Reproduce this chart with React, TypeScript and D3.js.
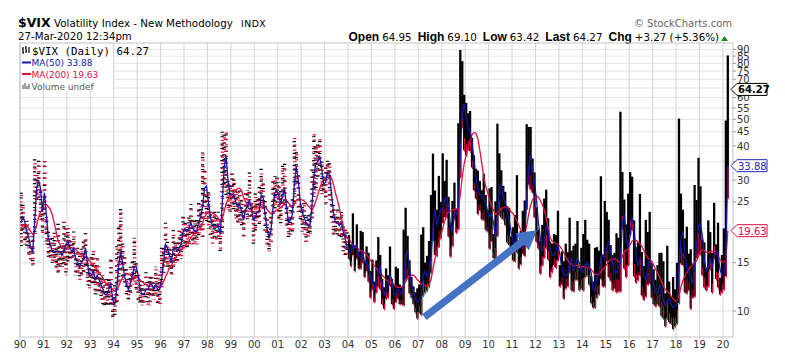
import * as d3 from "d3";

const W = 785;
const H = 360;
const plot = { left: 20, right: 733, top: 43, bottom: 337 };

const FONT = "'DejaVu Sans', Verdana, sans-serif";
const ARIAL = "'Liberation Sans', Arial, sans-serif";
const MONO = "'DejaVu Sans Mono', monospace";

const RED = "#e3103f";
const BLUE = "#1818a8";
const ARROW = "#4472c4";

const firstYear = 1990;
const barsFrom = 2004; // before this only closes exist -> drawn as ticks

// monthly range of the index, Jan 1990 .. Mar 2020
const monthHigh = [
  27.0, 24.6, 21.0, 21.5, 19.5, 18.0, 19.0, 36.5, 33.0, 36.0, 28.0, 24.0,
  36.2, 22.0, 19.5, 19.0, 18.5, 19.5, 17.5, 21.0, 17.5, 18.0, 21.5, 20.5,
  20.5, 18.5, 18.0, 19.5, 16.0, 17.0, 16.0, 17.5, 18.0, 19.5, 16.0, 14.5,
  16.0, 17.0, 15.0, 16.0, 14.5, 13.5, 13.5, 12.5, 13.5, 13.0, 15.5, 11.5,
  12.5, 17.5, 21.0, 23.9, 18.0, 16.5, 14.5, 13.5, 14.5, 15.5, 18.5, 15.0,
  14.0, 12.5, 13.0, 12.5, 14.0, 13.0, 14.0, 13.5, 13.0, 14.5, 13.5, 14.0,
  17.0, 17.5, 21.0, 18.0, 17.5, 16.0, 20.0, 18.5, 18.0, 20.0, 20.0, 22.5,
  21.5, 21.0, 22.5, 24.5, 21.5, 22.0, 21.5, 25.0, 24.5, 38.2, 33.0, 27.5,
  27.5, 23.0, 22.5, 23.5, 22.5, 23.0, 21.0, 45.0, 44.0, 45.7, 30.0, 29.0,
  33.0, 30.5, 28.0, 28.5, 28.0, 26.0, 24.5, 27.5, 27.5, 32.0, 25.5, 24.0,
  27.0, 26.5, 28.5, 33.5, 30.5, 25.5, 22.0, 20.5, 22.5, 30.5, 31.0, 31.5,
  29.5, 27.5, 35.0, 34.5, 25.5, 22.5, 24.5, 26.0, 43.7, 38.5, 32.0, 25.5,
  24.5, 25.5, 22.0, 23.0, 22.5, 33.0, 45.0, 40.0, 41.0, 43.5, 35.5, 31.5,
  35.0, 36.0, 35.5, 27.0, 25.0, 22.5, 23.5, 22.5, 23.0, 20.5, 20.5, 19.5,
  18.9, 17.5, 22.7, 17.3, 20.7, 16.5, 19.6, 19.4, 15.2, 17.2, 16.3, 14.0,
  15.4, 12.8, 15.3, 18.6, 16.0, 13.1, 12.2, 14.3, 13.5, 17.2, 13.1, 12.5,
  14.5, 14.3, 12.5, 12.3, 19.8, 23.8, 18.8, 15.3, 13.3, 12.3, 11.7, 12.1,
  12.5, 19.0, 20.2, 15.0, 15.9, 18.0, 26.5, 37.5, 27.5, 23.4, 31.1, 25.0,
  37.6, 29.8, 35.6, 26.1, 21.0, 25.2, 29.4, 23.6, 48.4, 89.5, 81.5, 61.4,
  57.4, 52.6, 53.6, 42.8, 37.0, 33.0, 32.5, 29.8, 27.6, 31.7, 26.5, 23.4,
  28.0, 28.3, 19.1, 25.1, 48.2, 37.6, 32.6, 28.6, 27.2, 24.1, 23.8, 18.7,
  20.2, 22.4, 31.3, 17.9, 19.6, 23.2, 25.3, 48.0, 46.9, 46.9, 36.0, 32.0,
  23.9, 19.8, 18.0, 20.6, 25.7, 27.7, 21.8, 17.9, 17.6, 19.1, 18.9, 23.2,
  14.7, 16.5, 15.2, 17.6, 16.4, 21.9, 16.6, 17.3, 17.6, 21.3, 14.4, 17.0,
  19.1, 21.5, 18.2, 17.6, 13.4, 12.8, 17.0, 17.1, 16.6, 31.0, 16.0, 25.2,
  23.0, 21.5, 17.4, 16.0, 16.3, 19.2, 18.5, 53.3, 32.1, 25.5, 20.7, 26.8,
  32.1, 30.9, 21.4, 17.1, 17.8, 26.7, 16.4, 14.6, 21.5, 19.4, 23.0, 15.0,
  14.2, 13.0, 14.7, 16.3, 16.3, 15.2, 11.6, 17.3, 12.8, 11.3, 13.3, 12.0,
  15.0, 50.3, 26.8, 23.4, 18.4, 20.3, 16.2, 16.8, 14.9, 28.8, 25.4, 36.2,
  28.5, 18.2, 17.8, 14.4, 21.4, 19.4, 16.3, 24.8, 17.5, 21.0, 13.2, 16.0,
  20.0, 49.5, 85.5,
];

const monthLow = [
  17.2, 19.8, 17.5, 17.0, 15.8, 15.4, 14.7, 18.5, 25.0, 25.5, 21.0, 18.5,
  21.5, 17.5, 15.5, 15.5, 15.0, 15.0, 14.0, 13.8, 14.5, 14.5, 14.5, 13.5,
  15.0, 15.5, 15.0, 15.5, 13.5, 13.5, 13.0, 13.5, 13.5, 14.5, 12.5, 12.0,
  12.5, 12.5, 11.5, 11.5, 11.5, 11.0, 10.5, 10.5, 10.5, 10.5, 10.5, 9.3,
  9.5, 10.5, 12.5, 14.0, 13.0, 12.5, 11.5, 11.0, 11.5, 12.5, 12.5, 11.5,
  11.0, 10.5, 10.5, 10.5, 11.0, 10.5, 10.5, 11.0, 11.0, 11.5, 10.5, 10.5,
  12.0, 13.5, 15.0, 14.5, 14.0, 13.5, 14.5, 15.0, 15.0, 15.5, 15.5, 16.5,
  17.5, 17.0, 17.5, 18.5, 17.5, 17.5, 17.5, 18.5, 19.5, 18.5, 24.0, 21.0,
  20.0, 18.5, 17.5, 18.5, 18.0, 18.5, 16.5, 19.0, 28.0, 26.0, 23.5, 22.5,
  23.5, 23.0, 21.5, 21.0, 21.5, 20.5, 18.5, 22.5, 21.0, 21.5, 21.5, 17.5,
  19.5, 21.5, 20.5, 24.0, 23.5, 19.5, 17.5, 16.5, 17.5, 22.5, 23.5, 24.5,
  21.5, 20.5, 24.5, 23.5, 20.5, 18.5, 19.0, 19.0, 24.5, 29.0, 23.0, 21.5,
  19.5, 19.0, 17.5, 18.5, 18.5, 21.5, 26.0, 27.5, 30.5, 32.0, 26.5, 26.5,
  24.5, 29.5, 25.5, 21.0, 19.0, 19.5, 19.0, 18.5, 18.5, 16.5, 16.0, 16.0,
  15.5, 14.6, 16.0, 14.0, 15.5, 14.3, 14.3, 15.0, 13.3, 14.0, 12.8, 11.2,
  12.0, 10.8, 11.7, 12.3, 12.0, 10.6, 10.2, 11.1, 11.2, 12.4, 10.6, 10.2,
  10.8, 11.1, 10.6, 10.6, 10.5, 13.0, 13.2, 11.6, 11.2, 10.6, 9.9, 9.4,
  9.9, 9.7, 11.4, 11.7, 11.9, 12.3, 13.8, 18.2, 16.0, 15.9, 17.2, 18.5,
  21.0, 22.0, 22.0, 18.7, 15.8, 17.3, 21.7, 19.3, 19.9, 30.8, 47.0, 38.6,
  37.0, 39.0, 38.3, 33.4, 27.6, 25.7, 22.6, 23.3, 21.6, 21.5, 19.8, 19.5,
  16.9, 18.0, 15.6, 15.2, 18.8, 22.5, 21.9, 21.6, 20.6, 17.8, 17.4, 16.3,
  15.3, 15.2, 16.4, 14.3, 14.8, 16.2, 15.9, 23.6, 29.0, 27.8, 27.0, 22.0,
  17.9, 16.9, 13.7, 14.7, 15.7, 17.0, 15.4, 13.3, 13.9, 14.7, 14.4, 15.3,
  12.3, 12.5, 11.1, 12.1, 12.3, 13.8, 11.9, 11.8, 13.0, 13.0, 11.9, 12.1,
  11.9, 13.3, 13.5, 12.5, 10.7, 10.3, 10.3, 11.2, 11.5, 13.1, 12.3, 12.3,
  15.2, 13.3, 12.9, 11.9, 12.1, 11.7, 11.8, 11.8, 20.0, 14.3, 13.3, 14.7,
  19.0, 19.8, 13.4, 12.7, 13.0, 13.5, 11.4, 11.0, 11.3, 12.5, 12.6, 11.2,
  10.6, 10.4, 10.6, 10.4, 9.6, 9.4, 8.8, 9.4, 9.1, 9.0, 8.6, 8.8,
  9.0, 10.7, 14.9, 14.7, 11.7, 11.6, 11.9, 10.2, 11.2, 11.3, 15.6, 16.1,
  16.1, 13.5, 12.2, 11.9, 12.3, 14.2, 11.7, 15.6, 13.1, 12.2, 11.5, 11.7,
  12.0, 13.4, 25.9,
];

const ma50 = [
  21, 22, 21, 19.5, 18.5, 17, 16.5, 21, 28, 30, 28, 23,
  27, 22.5, 18.5, 17.5, 16.5, 16.5, 16.5, 16.5, 16.5, 16, 16.5, 17.5,
  18, 17, 16.5, 17, 15.5, 15, 14.5, 15, 15.5, 17, 15, 13.5,
  13.5, 14, 13, 13.5, 13, 12.5, 12, 11.5, 11.5, 12, 12.5, 11,
  10.5, 12, 14.5, 16.5, 15, 13.5, 12.5, 12, 12.5, 13.5, 14.5, 14.5,
  13.5, 12, 11.5, 11.5, 12, 12, 12.5, 12.5, 12, 12.5, 12, 12,
  13, 15, 17.5, 17, 16, 15, 17, 17, 16.5, 17, 17.5, 19.5,
  20, 19.5, 20, 21, 20, 19.5, 19.5, 21, 22, 24, 28, 28.5,
  25, 22, 20.5, 20.5, 20.5, 20.5, 19, 24, 33, 37, 30, 26.5,
  26.5, 26.5, 25, 24, 24.5, 23, 21.5, 23.5, 24, 25.5, 23.5, 21.5,
  22, 23, 23, 26.5, 26, 22.5, 20, 18.5, 19.5, 23.5, 27, 27.5,
  26.5, 24.5, 26.5, 28, 24, 21, 21.5, 22.5, 29, 33.5, 30, 25,
  23, 22, 21, 20.5, 20.5, 24, 31, 34.5, 35, 36.5, 33, 29,
  29.5, 32, 31.5, 27, 23, 21, 21, 20.5, 21, 19.5, 18.5, 17,
  17, 16.3, 17.5, 17, 17.5, 16, 15.5, 16.5, 15, 15, 14.5, 13.2,
  13, 12, 12.5, 14, 14.5, 12.5, 11.5, 12, 12.5, 13.5, 13, 11.5,
  11.5, 12, 11.8, 11.5, 12.5, 16, 16.5, 14.5, 12.5, 11.8, 11, 10.8,
  10.9, 11.2, 13.5, 14, 13.3, 14, 15.5, 20, 23.5, 20.5, 22, 23.5,
  23.5, 25.5, 26, 24, 20.5, 19.5, 22.5, 22.5, 24, 37, 53, 57,
  51, 46, 45.5, 41, 35.5, 31, 28, 26.5, 26.5, 25.5, 25, 23,
  22, 22.5, 21, 18.5, 22, 28, 29, 26, 25, 23, 21.5, 19.5,
  18, 17.5, 19, 19, 17, 17.5, 18.5, 25, 33, 37, 33, 29.5,
  25.5, 21, 18.5, 16.5, 17.5, 20.5, 19.5, 17, 16, 16, 16.5, 17.5,
  16, 14.5, 13.5, 13.5, 13.5, 15, 15.5, 14, 14.8, 15.5, 15, 14,
  13.8, 14.5, 15, 14.5, 13.8, 12, 11.8, 13.3, 13.6, 15.5, 16, 15.5,
  17, 17.8, 16.8, 14.8, 13.8, 13.8, 14.4, 15, 21, 22.5, 18.5, 17,
  19, 22, 20, 16, 14.6, 15.5, 15.3, 13.3, 13, 14.2, 15.5, 14.5,
  12.5, 11.7, 11.6, 12.4, 12.1, 10.9, 10.5, 10.9, 11.1, 10.6, 10.3, 10.4,
  10.6, 14.5, 18.5, 19.5, 16.3, 14.2, 13.9, 13.3, 12.6, 14.8, 17.5, 20.5,
  20.8, 18.8, 15.3, 14, 14.4, 15.6, 14.3, 15.8, 16.5, 16, 14.2, 13.5,
  13.7, 15.5, 33.88,
];

const ma200 = [
  20, 20.5, 20.5, 20.5, 20, 19.5, 19, 19.5, 20.5, 22, 23, 23.5,
  24.5, 24.5, 24, 23.5, 22.5, 21, 19.5, 18, 17.5, 17, 16.8, 16.8,
  17, 17, 17, 17, 16.8, 16.5, 16.2, 16, 15.8, 15.8, 15.6, 15.3,
  15, 14.8, 14.5, 14.2, 13.8, 13.5, 13.2, 12.8, 12.5, 12.3, 12.2, 12,
  11.8, 11.9, 12.3, 12.8, 13.2, 13.5, 13.6, 13.6, 13.5, 13.3, 13.2, 13.3,
  13.3, 13, 12.8, 12.6, 12.5, 12.4, 12.3, 12.3, 12.3, 12.3, 12.3, 12.3,
  12.4, 12.8, 13.3, 13.8, 14.3, 14.6, 15.2, 15.6, 16, 16.3, 16.6, 17,
  17.4, 17.7, 18, 18.5, 18.9, 19.2, 19.5, 19.8, 20, 21, 22, 22.6,
  23, 23, 22.8, 22.6, 22.3, 21.8, 21, 21.5, 23, 24.5, 25.5, 26,
  26.5, 27, 27.5, 28, 28, 27.5, 26, 25, 24.5, 24.5, 24.3, 24,
  23.8, 23.8, 23.7, 24, 24.3, 24, 23.5, 23, 22.6, 22.6, 23, 23.3,
  23.6, 23.8, 24.2, 24.8, 25, 24.8, 24.3, 24, 24.5, 25.3, 25.6, 25.6,
  25.4, 25.2, 24.8, 24.2, 23.8, 23.3, 24, 25.2, 26.5, 28, 29.3, 30,
  30.6, 31.3, 31.3, 30.6, 29, 27, 25.5, 23.8, 22, 20.5, 19.2, 18.5,
  18.3, 17.8, 17.5, 17.2, 17, 16.8, 16.6, 16.5, 16.3, 16, 15.7, 15.3,
  15, 14.6, 14.3, 14, 13.8, 13.5, 13.3, 13, 12.8, 12.8, 12.7, 12.5,
  12.3, 12.2, 12.2, 12.2, 12.3, 12.8, 13.2, 13.4, 13.5, 13.5, 13.3, 13,
  12.8, 12.5, 12.5, 12.4, 12.3, 12.5, 13, 14.2, 15.5, 16.5, 17.6, 18.8,
  20, 21.3, 22.3, 23, 23.2, 23.3, 23.5, 23.5, 23.8, 26.5, 31, 34.5,
  37, 39.5, 42, 44, 44.8, 44.5, 42.5, 38.5, 34.5, 31, 28.5, 27,
  25.5, 24.3, 23.3, 22.5, 22.8, 23.3, 23.6, 23.8, 24, 24, 23.5, 23,
  22.7, 22, 21.3, 20.5, 19.7, 19.3, 19, 20.5, 22.5, 24.3, 25.5, 26,
  26.3, 26, 25.3, 24.5, 23.3, 21.8, 20, 18.5, 18, 17.8, 17.6, 17.5,
  17.2, 16.8, 16.3, 15.8, 15.3, 15, 14.8, 14.6, 14.6, 14.7, 14.6, 14.5,
  14.5, 14.5, 14.4, 14.4, 14.2, 13.9, 13.6, 13.6, 13.6, 13.9, 14.2, 14.4,
  14.8, 15.2, 15.4, 15.5, 15.5, 15.4, 15.1, 15.2, 15.8, 16.5, 16.6, 16.9,
  17.5, 18, 18.2, 18.1, 17.9, 17.6, 17.2, 16.6, 16, 15.6, 15.4, 15.2,
  14.7, 14.2, 13.8, 13.3, 12.8, 12.3, 12, 11.8, 11.6, 11.3, 11.1, 10.9,
  10.9, 11.4, 12.2, 12.9, 13.4, 13.8, 14.2, 14.5, 14.7, 15, 15.2, 15.8,
  16.5, 16.7, 16.6, 16.4, 16.3, 16.5, 16.5, 16.6, 16.4, 15.9, 15.4, 15.1,
  15.1, 15.3, 19.63,
];

const yearTicks = [
  1990, 1991, 1992, 1993, 1994, 1995, 1996, 1997, 1998, 1999, 2000,
  2001, 2002, 2003, 2004, 2005, 2006, 2007, 2008, 2009, 2010,
  2011, 2012, 2013, 2014, 2015, 2016, 2017, 2018, 2019, 2020,
];
const priceTicks = [10, 15, 20, 25, 30, 35, 40, 45, 50, 55, 60, 65, 70, 75, 80, 85, 90];

const lastPrice = 64.27;
const quote = [
  ["Open", "64.95"],
  ["High", "69.10"],
  ["Low", "63.42"],
  ["Last", "64.27"],
  ["Chg", "+3.27 (+5.36%)"],
];
// annotation arrow, in (year, value)
const arrowFrom = [2007.26, 9.5];
const arrowTo = [2012.07, 19.7];

export default function App() {
  const x = d3.scaleLinear().domain([1990, 2020.43]).range([plot.left, plot.right]);
  const y = d3.scaleLog().domain([8.04, 94.9]).range([plot.bottom, plot.top]);
  const tOf = (i: number) => firstYear + (i + 0.5) / 12;

  const months = monthHigh.map((hi, i) => ({ i, t: tOf(i), hi, lo: monthLow[i] }));
  const ticksEra = months.filter((m) => m.t < barsFrom);
  const barEra = months.filter((m) => m.t >= barsFrom);

  const line = d3
    .line<number>()
    .x((_, i) => x(tOf(i)))
    .y((d) => y(d));

  // arrow polygon
  const [ax0, ay0] = [x(arrowFrom[0]), y(arrowFrom[1])];
  const [ax1, ay1] = [x(arrowTo[0]), y(arrowTo[1])];
  const len = Math.hypot(ax1 - ax0, ay1 - ay0);
  const ux = (ax1 - ax0) / len, uy = (ay1 - ay0) / len;
  const nx = -uy, ny = ux;
  const sw = 3.6, hl = 19, hw = 11;
  const bx = ax1 - ux * hl, by = ay1 - uy * hl;
  const arrowPts = [
    [ax0 + nx * sw, ay0 + ny * sw],
    [bx + nx * sw, by + ny * sw],
    [bx + nx * hw, by + ny * hw],
    [ax1, ay1],
    [bx - nx * hw, by - ny * hw],
    [bx - nx * sw, by - ny * sw],
    [ax0 - nx * sw, ay0 - ny * sw],
  ]
    .map((p) => p.join(","))
    .join(" ");

  const last50 = ma50[ma50.length - 1];
  const last200 = ma200[ma200.length - 1];
  const tagValues = [lastPrice, last50, last200];
  // axis labels that sit under a value tag are hidden, as on the original
  const shownTicks = priceTicks.filter((v) => tagValues.every((t) => Math.abs(y(v) - y(t)) > 7));

  const tag = (v: number, color: string, bold: boolean) => {
    const yc = y(v);
    const x0 = plot.right - 2;
    return (
      <g key={v}>
        <path
          d={`M${x0},${yc} L${x0 + 6},${yc - 6} L${x0 + 36},${yc - 6} L${x0 + 36},${yc + 6} L${x0 + 6},${yc + 6} Z`}
          fill="#fff"
          stroke={color}
          strokeWidth={1}
        />
        <text
          x={x0 + 7}
          y={yc + 4}
          fontSize={10}
          fontWeight={bold ? "bold" : "normal"}
          fill={color}
          fontFamily={FONT}
        >
          {v.toFixed(2)}
        </text>
      </g>
    );
  };

  return (
    <div style={{ position: "absolute", left: 0, top: 0 }}>
      <svg width={W} height={H} style={{ display: "block", background: "#fff" }}>
        <defs>
          <clipPath id="plotClip">
            <rect x={plot.left} y={plot.top} width={plot.right - plot.left} height={plot.bottom - plot.top} />
          </clipPath>
        </defs>

        {/* header */}
        <text x={18} y={27} fontFamily={FONT} fontWeight="bold" fontSize={12.5} fill="#000">$VIX</text>
        <text x={54} y={27} fontFamily={FONT} fontSize={10.3} fill="#000">Volatility Index - New Methodology</text>
        <text x={241} y={27} fontFamily={FONT} fontSize={9.3} letterSpacing={0.5} fill="#000">INDX</text>
        <text x={18} y={40} fontFamily={FONT} fontSize={10.2} fill="#000">27-Mar-2020 12:34pm</text>
        <text x={732} y={27} textAnchor="end" fontFamily={FONT} fontSize={10} fill="#666">© StockCharts.com</text>
        <text x={719} y={41} textAnchor="end" fill="#000">
          {quote.map(([k, v], i) => (
            <tspan key={k}>
              <tspan fontFamily={ARIAL} fontWeight="bold" fontSize={12} dx={i ? 6 : 0}>{k}</tspan>
              <tspan fontFamily={FONT} fontSize={10.3} dx={3}>{v}</tspan>
            </tspan>
          ))}
        </text>
        <path d="M721,41 L724.5,36 L728,41 Z" fill="#1a8a1a" />

        {/* grid */}
        {priceTicks.map((v) => (
          <line key={"h" + v} x1={plot.left} x2={plot.right} y1={y(v)} y2={y(v)} stroke="#e2e2e2" />
        ))}
        {yearTicks.map((t) => (
          <line key={"v" + t} x1={x(t)} x2={x(t)} y1={plot.top} y2={plot.bottom + 3} stroke="#d4d4d4" />
        ))}
        <rect
          x={plot.left}
          y={plot.top}
          width={plot.right - plot.left}
          height={plot.bottom - plot.top}
          fill="none"
          stroke="#c4c4c4"
        />

        {/* legend box */}
        <rect x={plot.left + 1} y={plot.top + 1} width={92} height={47} fill="#fff" />

        <g clipPath="url(#plotClip)">
          {/* closes-only era: black and red ticks */}
          {ticksEra.map((m) => (
            <g key={"t" + m.i}>
              <line
                x1={x(m.t)}
                x2={x(m.t)}
                y1={y(m.hi)}
                y2={y(m.lo)}
                stroke="#000"
                strokeWidth={3.4}
                strokeDasharray="1.2 3.4 1.2 6.1"
                strokeDashoffset={(m.i * 3.7) % 11.9}
              />
              <line
                x1={x(m.t) + 0.4}
                x2={x(m.t) + 0.4}
                y1={y(m.hi) + 2.2}
                y2={y(m.lo)}
                stroke={RED}
                strokeWidth={3.4}
                strokeDasharray="1.2 5.3 1.2 3.9"
                strokeDashoffset={(m.i * 5.3) % 11.6}
              />
            </g>
          ))}
          {/* daily high-low era */}
          {barEra.map((m) => {
            const yh = y(m.hi), yl = y(m.lo);
            return (
              <g key={"b" + m.i}>
                <line x1={x(m.t)} x2={x(m.t)} y1={yh} y2={yl} stroke="#000" strokeWidth={2.3} />
                <line
                  x1={x(m.t) + 0.4}
                  x2={x(m.t) + 0.4}
                  y1={yl - (yl - yh) * 0.22}
                  y2={yl + 1.5}
                  stroke={RED}
                  strokeWidth={1.1}
                />
              </g>
            );
          })}

          <path d={line(ma200) || ""} fill="none" stroke={RED} strokeWidth={1.3} />
          <path d={line(ma50) || ""} fill="none" stroke={BLUE} strokeWidth={1.3} />

          <polygon points={arrowPts} fill={ARROW} />
        </g>

        {/* legend */}
        <g>
          <path d="M23,47 v7 M22,49 h1 M23,52 h1 M26,46 v7 M25,48 h1 M26,51 h1 M29,47 v6"
            stroke="#000" strokeWidth={1.2} fill="none" />
          <text x={32} y={55} fontFamily={MONO} fontSize={10.8} fill="#000">$VIX (Daily) {lastPrice.toFixed(2)}</text>
          <line x1={22} x2={31} y1={62.5} y2={62.5} stroke={BLUE} strokeWidth={2} />
          <text x={31.5} y={66} fontFamily={FONT} fontSize={9} fill={BLUE}>MA(50) {last50.toFixed(2)}</text>
          <line x1={22} x2={31} y1={74} y2={74} stroke={RED} strokeWidth={2} />
          <text x={31.5} y={77.5} fontFamily={FONT} fontSize={9} fill={RED}>MA(200) {last200.toFixed(2)}</text>
          <path d="M23,89 v-4 M25,89 v-6 M27,89 v-3 M29,89 v-5" stroke="#777" strokeWidth={1.4} />
          <text x={31.5} y={89.5} fontFamily={FONT} fontSize={9} fill="#555">Volume undef</text>
        </g>

        {/* axes labels */}
        {yearTicks.map((t) => (
          <text key={"xl" + t} x={x(t)} y={348} textAnchor="middle" fontFamily={FONT} fontSize={10} fill="#333">
            {String(t).slice(2)}
          </text>
        ))}
        {priceTicks.map((v) => (
          <line key={"yt" + v} x1={plot.right} x2={plot.right + 3} y1={y(v)} y2={y(v)} stroke="#999" />
        ))}
        {shownTicks.map((v) => (
          <text key={"yl" + v} x={737} y={y(v) + 3.6} fontFamily={FONT} fontSize={10} fill="#333">
            {v}
          </text>
        ))}

        {tag(last200, RED, false)}
        {tag(last50, "#2323b8", false)}
        {tag(lastPrice, "#000", true)}
      </svg>
    </div>
  );
}
